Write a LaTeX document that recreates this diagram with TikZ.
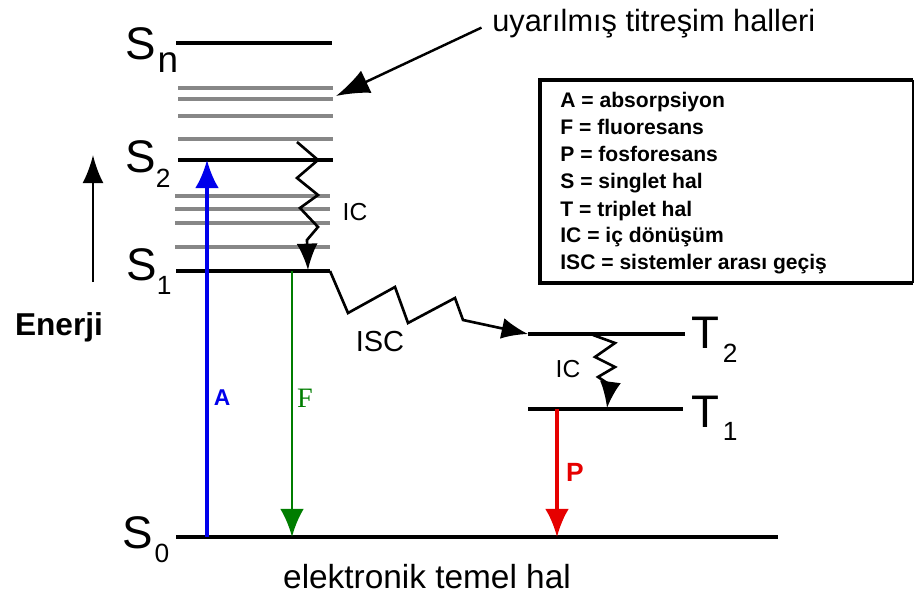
\documentclass[tikz,border=0pt]{standalone}
\usepackage{fontspec}
\setmainfont{Liberation Sans}
\newfontfamily\serfont{Liberation Serif}
\usetikzlibrary{arrows.meta, positioning}
\definecolor{VibGray}{RGB}{135,135,135}
\definecolor{AbsBlue}{RGB}{0,0,235}
\definecolor{FluoGreen}{RGB}{0,125,0}
\definecolor{PhosRed}{RGB}{230,0,0}
\newcommand{\statelbl}[4]{#1\kern#4\raisebox{#3}{\fontsize{15}{15}\selectfont #2}}
\tikzset{
  >=latex,
  % enerji seviyeleri
  level/.style={line width=1.9pt,black},
  vib/.style={line width=1.9pt,VibGray},
  % gecisler
  trans/.style={-{Latex[length=16pt,width=13.5pt]},line width=1.9pt},
  wavy/.style={-{Latex[length=15pt,width=12pt]},line width=1.5pt,line join=miter},
  % yazilar
  statetxt/.style={font=\fontsize{26}{26}\selectfont,inner sep=0pt,anchor=base west},
  lbl/.style={font=\fontsize{14}{14}\selectfont,inner sep=0pt},
  legendtxt/.style={font=\bfseries\fontsize{12}{12}\selectfont,inner sep=0pt,anchor=base west}
}
\begin{document}
\begin{tikzpicture}[x=0.02cm,y=-0.02cm]
  \useasboundingbox (0,0) rectangle (916,601);
  % seviyeler
  \coordinate (Sn1) at (176,43);  \coordinate (Sn2) at (332,43);
  \coordinate (S21) at (178,160); \coordinate (S22) at (333,160);
  \coordinate (S11) at (176,271); \coordinate (S12) at (330,271);
  \coordinate (S01) at (176,537); \coordinate (S02) at (778,537);
  \coordinate (T21) at (528,334); \coordinate (T22) at (685,334);
  \coordinate (T11) at (528,409); \coordinate (T12) at (683,409);
  \foreach \y in {88,99,116,139} \draw[vib] (178,\y) -- (333,\y);
  \foreach \y in {196,209,223,247} \draw[vib] (175,\y) -- (330,\y);
  \draw[level] (Sn1) -- (Sn2);
  \draw[level] (S21) -- (S22);
  \draw[level] (S11) -- (S12);
  \draw[level] (S01) -- (S02);
  \draw[level] (T21) -- (T22);
  \draw[level] (T11) -- (T12);
  \node[statetxt] (lSn) at (125,60) {S\kern1pt\raisebox{-7pt}{\fontsize{21}{21}\selectfont n}};
  \node[statetxt] (lS2) at (125,173) {\statelbl{S}{2}{-8.5pt}{0pt}};
  \node[statetxt] (lS1) at (126,280) {\statelbl{S}{1}{-8.5pt}{0pt}};
  \node[statetxt] (lS0) at (122,548) {\statelbl{S}{0}{-8pt}{1pt}};
  \node[statetxt] (lT2) at (691,348) {\statelbl{T}{2}{-8pt}{2pt}};
  \node[statetxt] (lT1) at (691,427) {\statelbl{T}{1}{-7.5pt}{2pt}};
  % gecis uclari
  \coordinate (a0) at (207,537); \coordinate (a1) at (207,160);
  \coordinate (f0) at (292,271); \coordinate (f1) at (292,537);
  \coordinate (p0) at (557,409); \coordinate (p1) at (557,537);
  \draw[trans,AbsBlue] (a0) -- (a1);
  \draw[trans,FluoGreen,line width=1.7pt] (f0) -- (f1);
  \draw[trans,PhosRed] (p0) -- (p1);
  \node[font=\bfseries\fontsize{13}{13}\selectfont,AbsBlue,inner sep=0pt] (lA) at (222,398) {A};
  \node[font=\serfont\fontsize{16}{16}\selectfont,FluoGreen,inner sep=0pt] (lF) at (305,398) {F};
  \node[font=\fontsize{15}{15}\selectfont,PhosRed,inner sep=0pt] (lP) at (575,472) {\textbf{P}};
  % IC ve ISC
  \draw[wavy] (297,142) -- (318,160) -- (297,178) -- (318,195) -- (300,208)
    -- (318,227) -- (307,240) -- (308,270);
  \node[lbl] (ic1) at (355,212) {IC};
  \draw[wavy] (S12) -- (348,313) -- (395,287) -- (408,323) -- (455,298)
    -- (463,320) -- (T21);
  \node[lbl,font=\fontsize{16.5}{16.5}\selectfont] (isc) at (380,342) {ISC};
  \draw[wavy] (593,335) -- (615,343) -- (595,357) -- (615,367) -- (598,377)
    -- (610,385) -- (607,408);
  \node[lbl] (ic2) at (568,369) {IC};
  % enerji eksen
  \node[font=\bfseries\fontsize{18}{18}\selectfont,inner sep=0pt] (enerji) at (59,327) {Enerji};
  \coordinate (e0) at (93,282); \coordinate (e1) at (93,155);
  \draw[-{Latex[length=16pt,width=12pt]},line width=1.5pt] (e0) -- (e1);
  % ust ve alt yazilar
  \node[inner sep=0pt,anchor=base west,font=\fontsize{17.5}{17.5}\selectfont] (vibtxt) at (492,32) {uyarılmış titreşim halleri};
  \coordinate (vibtip) at (336,96);
  \draw[-{Latex[length=19pt,width=14pt]},line width=1.4pt] ([xshift=-6pt,yshift=-2pt]vibtxt.west) -- (vibtip);
  \node[inner sep=0pt,anchor=base,font=\fontsize{19}{19}\selectfont] (ground) at (427,588) {elektronik temel hal};
  % aciklama kutusu
  \draw[line width=1.9pt] (913,80) -- (540,80) -- (540,283) -- (913,283);
  \draw[line width=0.8pt] (913,80) -- (913,283);
  \foreach \txt [count=\i from 0] in {A = absorpsiyon, F = fluoresans, P = fosforesans,
      S = singlet hal, T = triplet hal, IC = iç dönüşüm, ISC = sistemler arası geçiş}
    \node[legendtxt] (leg\i) at (560,108+27*\i) {\txt};
\end{tikzpicture}
\end{document}
